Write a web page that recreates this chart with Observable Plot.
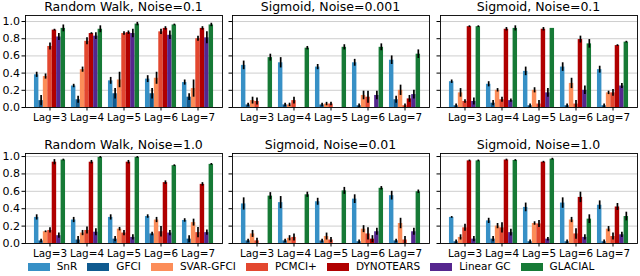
<!DOCTYPE html>
<html>
<head>
<meta charset="utf-8">
<script src="https://cdn.jsdelivr.net/npm/d3@7"></script>
<script src="https://cdn.jsdelivr.net/npm/@observablehq/plot@0.6"></script>
<style>
  html, body { margin: 0; padding: 0; background: #fff; }
  #root { position: relative; width: 640px; height: 276px; font-family: "DejaVu Sans", sans-serif; overflow: hidden; }
  .panel { position: absolute; overflow: visible; }
  .title { position: absolute; font-size: 12.5px; line-height: 14px; text-align: center; white-space: nowrap; color: #000; }
  #legend { position: absolute; left: 0; top: 261px; width: 622px; display: flex; justify-content: center; align-items: center; font-size: 10.5px; line-height: 11px; }
  .item { display: flex; align-items: center; margin: 0 5px; }
  .sw { width: 22px; height: 8px; margin-right: 7px; }
</style>
</head>
<body>
<div id="root"></div>
<script>
const methods = ["SnR", "GFCI", "SVAR-GFCI", "PCMCI+", "DYNOTEARS", "Linear GC", "GLACIAL"];
const colors = ["#3790c6", "#0f5a8f", "#fc8d59", "#e3472f", "#b00000", "#55268e", "#167a36"];
const lags = ["Lag=3", "Lag=4", "Lag=5", "Lag=6", "Lag=7"];
const titles = ["Random Walk, Noise=0.1", "Sigmoid, Noise=0.001", "Sigmoid, Noise=0.1",
                "Random Walk, Noise=1.0", "Sigmoid, Noise=0.01", "Sigmoid, Noise=1.0"];
const yTicks = [0, 0.2, 0.4, 0.6, 0.8, 1.0];

// rows = methods, columns = lags
const rw01Mean = [
  [0.38, 0.25, 0.31, 0.33, 0.29],
  [0.08, 0.09, 0.16, 0.16, 0.12],
  [0.36, 0.44, 0.32, 0.34, 0.22],
  [0.71, 0.77, 0.86, 0.88, 0.80],
  [0.90, 0.86, 0.87, 0.92, 0.92],
  [0.82, 0.83, 0.86, 0.84, 0.81],
  [0.92, 0.91, 0.97, 0.96, 0.96]];
const rw01Err = [
  [0.03, 0.02, 0.04, 0.04, 0.03],
  [0.06, 0.04, 0.06, 0.06, 0.04],
  [0.03, 0.03, 0.09, 0.07, 0.10],
  [0.04, 0.04, 0.02, 0.03, 0.03],
  [0.01, 0.01, 0.02, 0.02, 0.02],
  [0.04, 0.04, 0.05, 0.05, 0.07],
  [0.04, 0.04, 0.02, 0.01, 0.02]];

const sg0001Mean = [
  [0.49, 0.52, 0.47, 0.52, 0.55],
  [0.03, 0.03, 0.03, 0.02, 0.09],
  [0.08, 0.03, 0.04, 0.14, 0.20],
  [0.07, 0.08, 0.04, 0.12, 0.02],
  [0.00, 0.00, 0.00, 0.00, 0.10],
  [0.00, 0.00, 0.00, 0.14, 0.15],
  [0.58, 0.69, 0.70, 0.70, 0.62]];
const sg0001Err = [
  [0.05, 0.06, 0.03, 0.04, 0.05],
  [0.02, 0.02, 0.02, 0.02, 0.04],
  [0.04, 0.02, 0.02, 0.05, 0.06],
  [0.04, 0.04, 0.02, 0.07, 0.02],
  [0.00, 0.00, 0.00, 0.00, 0.04],
  [0.00, 0.00, 0.00, 0.05, 0.05],
  [0.04, 0.02, 0.03, 0.04, 0.05]];

const sg01Mean = [
  [0.30, 0.27, 0.42, 0.47, 0.44],
  [0.02, 0.05, 0.02, 0.02, 0.02],
  [0.17, 0.20, 0.20, 0.28, 0.17],
  [0.07, 0.09, 0.04, 0.04, 0.17],
  [0.94, 0.91, 0.91, 0.79, 0.72],
  [0.07, 0.08, 0.17, 0.20, 0.25],
  [0.94, 0.92, 0.92, 0.74, 0.76]];
const sg01Err = [
  [0.02, 0.03, 0.05, 0.05, 0.04],
  [0.02, 0.03, 0.02, 0.02, 0.02],
  [0.05, 0.02, 0.03, 0.06, 0.02],
  [0.02, 0.03, 0.04, 0.04, 0.04],
  [0.01, 0.02, 0.02, 0.04, 0.01],
  [0.04, 0.02, 0.05, 0.05, 0.03],
  [0.01, 0.03, 0.00, 0.05, 0.01]];

const rw10Mean = [
  [0.30, 0.27, 0.30, 0.31, 0.265],
  [0.03, 0.04, 0.05, 0.11, 0.05],
  [0.135, 0.12, 0.165, 0.27, 0.24],
  [0.15, 0.15, 0.12, 0.135, 0.125],
  [0.935, 0.935, 0.935, 0.70, 0.68],
  [0.09, 0.13, 0.07, 0.12, 0.125],
  [0.96, 0.99, 0.99, 0.895, 0.91]];
const rw10Err = [
  [0.03, 0.03, 0.03, 0.02, 0.02],
  [0.02, 0.04, 0.03, 0.02, 0.04],
  [0.01, 0.03, 0.02, 0.03, 0.04],
  [0.03, 0.04, 0.03, 0.06, 0.06],
  [0.03, 0.02, 0.02, 0.02, 0.02],
  [0.03, 0.04, 0.03, 0.03, 0.03],
  [0.01, 0.01, 0.01, 0.01, 0.01]];

const sg001Mean = [
  [0.455, 0.47, 0.48, 0.51, 0.55],
  [0.03, 0.03, 0.03, 0.02, 0.03],
  [0.11, 0.06, 0.08, 0.165, 0.23],
  [0.03, 0.07, 0.04, 0.11, 0.04],
  [0.00, 0.00, 0.00, 0.05, 0.00],
  [0.00, 0.00, 0.00, 0.135, 0.135],
  [0.545, 0.56, 0.605, 0.635, 0.595]];
const sg001Err = [
  [0.07, 0.07, 0.04, 0.05, 0.05],
  [0.02, 0.02, 0.02, 0.02, 0.02],
  [0.04, 0.03, 0.04, 0.04, 0.06],
  [0.03, 0.04, 0.03, 0.07, 0.04],
  [0.00, 0.00, 0.00, 0.04, 0.00],
  [0.00, 0.00, 0.00, 0.04, 0.04],
  [0.04, 0.03, 0.04, 0.02, 0.02]];

const sg10Mean = [
  [0.30, 0.26, 0.415, 0.465, 0.44],
  [0.02, 0.05, 0.02, 0.02, 0.02],
  [0.07, 0.20, 0.23, 0.27, 0.165],
  [0.18, 0.18, 0.225, 0.11, 0.08],
  [0.95, 0.96, 0.935, 0.53, 0.42],
  [0.05, 0.125, 0.05, 0.07, 0.10],
  [0.95, 0.955, 0.97, 0.28, 0.31]];
const sg10Err = [
  [0.01, 0.03, 0.05, 0.06, 0.05],
  [0.02, 0.03, 0.02, 0.02, 0.02],
  [0.03, 0.03, 0.02, 0.03, 0.03],
  [0.04, 0.06, 0.04, 0.06, 0.04],
  [0.01, 0.01, 0.01, 0.06, 0.04],
  [0.03, 0.04, 0.02, 0.03, 0.03],
  [0.01, 0.01, 0.01, 0.05, 0.05]];

const panels = [
  {mean: rw01Mean, err: rw01Err}, {mean: sg0001Mean, err: sg0001Err}, {mean: sg01Mean, err: sg01Err},
  {mean: rw10Mean, err: rw10Err}, {mean: sg001Mean, err: sg001Err}, {mean: sg10Mean, err: sg10Err}];

// layout
const colLeft = [25, 232, 440];
const frameW = 197;
const rowTop = [15, 153];
const frameH = [92, 90];
const rowYMax = [1.07, 1.035];
const barW = 0.12;
const half = barW * methods.length / 2;
const span = lags.length - 1 + 2 * half;
const xDomain = [-half - 0.05 * span, lags.length - 1 + half + 0.05 * span];

const root = document.getElementById("root");

panels.forEach((p, k) => {
  const row = Math.floor(k / 3), col = k % 3;
  const rows = [];
  methods.forEach((m, mi) => lags.forEach((l, li) => {
    rows.push({method: m, mi, li, v: p.mean[mi][li], e: p.err[mi][li]});
  }));
  const mL = col === 0 ? 25 : 6, mR = 2, mT = 8, mB = 18;
  const svg = Plot.plot({
    width: frameW + mL + mR,
    height: frameH[row] + mT + mB,
    marginLeft: mL, marginRight: mR, marginTop: mT, marginBottom: mB,
    style: {fontFamily: "DejaVu Sans, sans-serif", fontSize: "11px", color: "#000", background: "transparent", overflow: "visible"},
    x: {type: "linear", domain: xDomain},
    y: {domain: [0, rowYMax[row]]},
    color: {domain: methods, range: colors},
    marks: [
      Plot.gridY(yTicks, {stroke: "#c8c8c8", strokeOpacity: 1, strokeWidth: 0.9}),
      Plot.rectY(rows, {
        x1: d => d.li + (d.mi - methods.length / 2) * barW,
        x2: d => d.li + (d.mi - methods.length / 2 + 1) * barW,
        y1: 0, y2: "v", fill: "method", inset: 0
      }),
      Plot.ruleX(rows.filter(d => d.e > 0), {
        x: d => d.li + (d.mi - methods.length / 2 + 0.5) * barW,
        y1: d => d.v - d.e, y2: d => d.v + d.e,
        stroke: "#000", strokeWidth: 1.7, clip: true
      }),
      Plot.frame({stroke: "#000", strokeWidth: 0.9}),
      Plot.axisX({ticks: d3.range(lags.length), tickFormat: i => lags[i], tickSize: 3.5, tickPadding: 2.5, label: null, fontSize: 10.4}),
      Plot.axisY({ticks: yTicks, tickFormat: col === 0 ? d3.format(".1f") : () => "", tickSize: 3.5, tickPadding: 2, label: null, fontSize: 11})
    ]
  });
  svg.classList.add("panel");
  svg.style.left = (colLeft[col] - mL) + "px";
  svg.style.top = (rowTop[row] - mT) + "px";
  root.appendChild(svg);

  const t = document.createElement("div");
  t.className = "title";
  t.textContent = titles[k];
  t.style.left = colLeft[col] + "px";
  t.style.width = frameW + "px";
  t.style.top = (rowTop[row] - 15) + "px";
  root.appendChild(t);
});

const legend = document.createElement("div");
legend.id = "legend";
methods.forEach((m, i) => {
  const it = document.createElement("div");
  it.className = "item";
  const sw = document.createElement("span");
  sw.className = "sw";
  sw.style.background = colors[i];
  const lb = document.createElement("span");
  lb.textContent = m;
  it.appendChild(sw); it.appendChild(lb);
  legend.appendChild(it);
});
root.appendChild(legend);
</script>
</body>
</html>
